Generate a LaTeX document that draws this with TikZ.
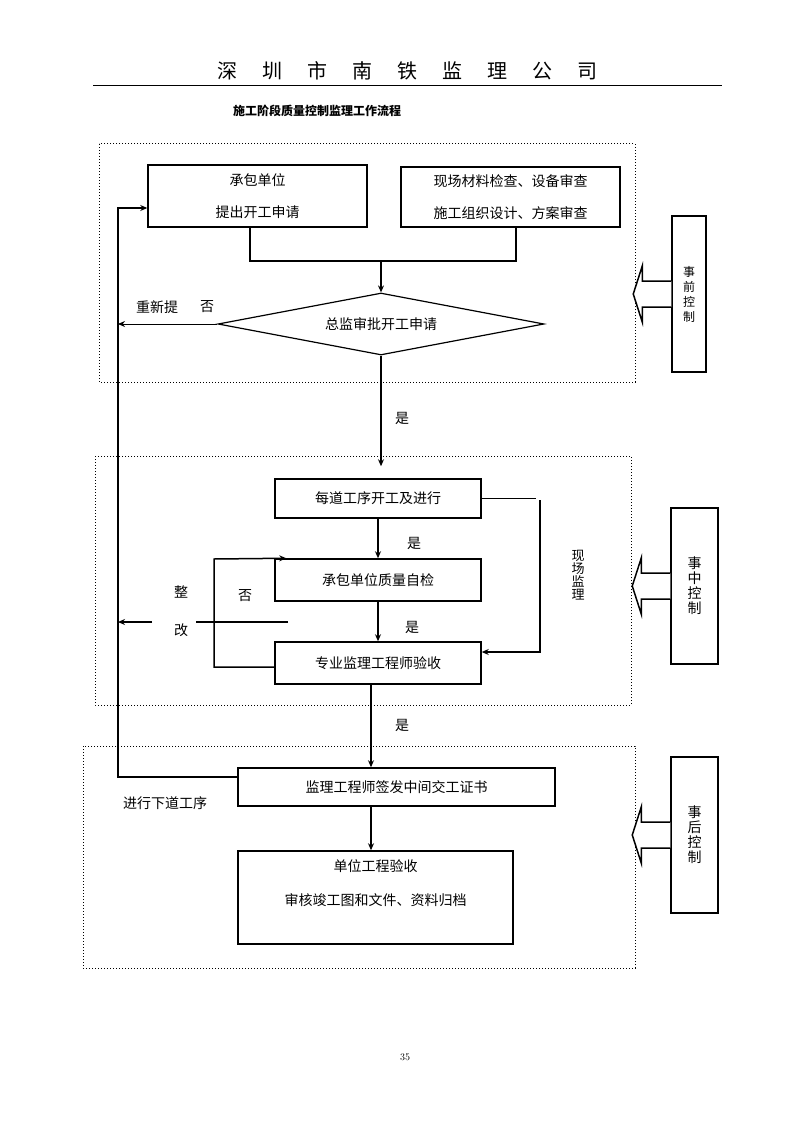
\documentclass[tikz,border=0pt]{standalone}
\usepackage{fontspec}
\newfontfamily\cjk{Noto Sans CJK SC}
\usetikzlibrary{shapes.geometric,arrows.meta}
\newcommand{\blockarr}[1]{\draw[line width=1.5pt, fill=white] ([yshift=13pt]#1.west) -- ++(-29,0) -- ++(0,-15) -- ++(-9,28) -- ++(9,28) -- ++(0,-15) -- ++(29,0);}
\begin{document}
\begin{tikzpicture}[x=1pt,y=-1pt,
 every node/.style={font=\cjk\fontsize{14}{16}\selectfont, inner sep=0pt},
 box/.style={draw, line width=1.5pt, align=center},
 conn/.style={line width=1.5pt},
 arr/.style={line width=1.5pt,-{Stealth[length=7pt,width=6pt]}},
 thinarr/.style={line width=1pt,-{Stealth[length=7pt,width=6pt]}},
 frame/.style={dotted, line width=1pt},
 side/.style={draw, line width=1.5pt, minimum height=156pt, align=center},
]
\useasboundingbox (0,0) rectangle (794,1123);
% header
\foreach \c [count=\i from 0] in {深,圳,市,南,铁,监,理,公,司}
  \node[font=\cjk\fontsize{20}{22}\selectfont] (h\i) at ({227+45.1*\i},71) {\c};
\draw[line width=1pt] (93,86) -- (722,86);
\node[font=\cjk\bfseries\fontsize{12}{14}\selectfont] (title) at (317,111) {施工阶段质量控制监理工作流程};
% frames
\draw[frame] (99,144) rectangle (635,382);
\draw[frame] (95,456) rectangle (631,705);
\draw[frame] (83,746) rectangle (635,968);
% stage 1
\node[box, minimum width=219, minimum height=62, font=\cjk\fontsize{14}{32}\selectfont] (A) at (257.5,196) {承包单位\\提出开工申请};
\node[box, minimum width=219, minimum height=60, font=\cjk\fontsize{14}{32}\selectfont] (B) at (510.5,197) {现场材料检查、设备审查\\施工组织设计、方案审查};
\node[draw, line width=1.2pt, diamond, aspect=5.26, minimum width=326, minimum height=62] (D) at (381,324) {总监审批开工申请};
\coordinate (J) at (380,261);
\coordinate (A1) at ([xshift=-7.5pt]A.south);
\coordinate (B1) at ([xshift=5.5pt]B.south);
\draw[conn] (A1) -- (A1 |- J) -- (B1 |- J) -- (B1);
\draw[arr] (D.north |- J) -- (D.north);
\coordinate (T) at (118,0);
\draw[thinarr] (D.west) -- (D.west -| T);
\node (redo) at (157,307) {重新提};
\node (no1) at (207,307) {否};
\coordinate (Ain) at ([yshift=-12pt]A.west);
% stage 2
\node[box, minimum width=206, minimum height=39] (E) at (378,498.5) {每道工序开工及进行};
\node[box, minimum width=206, minimum height=42] (F) at (378,580) {承包单位质量自检};
\node[box, minimum width=206, minimum height=42] (G) at (378,663) {专业监理工程师验收};
\coordinate (En) at ([yshift=12pt]E.north);
\draw[arr] (D.south) -- (D.south |- En);
\node (yes1) at (402,418) {是};
\draw[arr] (E.south) -- (F.north);
\node (yes2) at (414,543) {是};
\draw[arr] (F.south) -- (G.north);
\node (yes3) at (412,627) {是};
\coordinate (E1) at ([xshift=54pt]E.east);
\draw[conn] (E.east) -- (E1);
\coordinate (R) at (540,500);
\draw[arr] (R) |- ([yshift=11pt]G.east);
\node[align=center, font=\cjk\fontsize{13}{13}\selectfont] (xc) at (578,575) {现\\场\\监\\理};
\coordinate (Gw) at ([yshift=-4pt]G.west);
\coordinate (Lp) at (214,559);
\draw[arr] (Gw) -| (Lp) -- ([xshift=12pt]F.north west);
\node (no2) at (245,596) {否};
\node (zh) at (181,592) {整};
\node (gai) at (181,630) {改};
\coordinate (Z1) at (288,622);
\coordinate (Z2) at (196,622);
\draw[conn] (Z1) -- (Z2);
\coordinate (Z3) at (152,622);
\draw[arr] (Z3) -- (Z3 -| T);
% stage 3
\node[box, minimum width=317, minimum height=38] (H) at (396.5,787) {监理工程师签发中间交工证书};
\node[box, minimum width=275, minimum height=93] (I) at (375.5,897.5) {};
\node[align=center, font=\cjk\fontsize{14}{34}\selectfont] (Itxt) at (375.5,883) {单位工程验收\\审核竣工图和文件、资料归档};
\coordinate (G1) at ([xshift=-7pt]G.south);
\draw[arr] (G1) -- (G1 |- H.north);
\node (yes4) at (402,725) {是};
\coordinate (I1) at ([xshift=-4.5pt]I.north);
\draw[arr] (I1 |- H.south) -- (I1);
\coordinate (Hout) at ([yshift=10pt]H.west);
\draw[arr] (Hout) -| (T |- Ain) -- (Ain);
\node (nx) at (165,803) {进行下道工序};
% side controls
\node[side, minimum width=34, font=\cjk\fontsize{12}{15}\selectfont] (K1) at (689,294) {事\\前\\控\\制};
\node[side, minimum width=47, font=\cjk\fontsize{14}{15}\selectfont] (K2) at (694.5,586) {事\\中\\控\\制};
\node[side, minimum width=47, font=\cjk\fontsize{14}{15}\selectfont] (K3) at (694.5,835) {事\\后\\控\\制};
\blockarr{K1}
\blockarr{K2}
\blockarr{K3}
\node[font=\rmfamily\fontsize{10}{12}\selectfont] (pg) at (405,1057) {35};
\end{tikzpicture}
\end{document}
